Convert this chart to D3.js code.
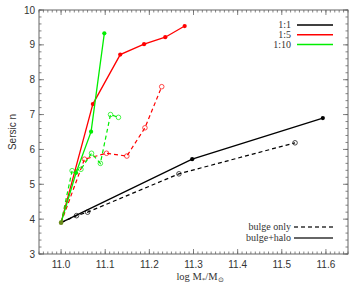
<!DOCTYPE html>
<html>
<head>
<meta charset="utf-8">
<script src="https://cdn.jsdelivr.net/npm/d3@7"></script>
<style>
  body { margin: 0; background: #fff; }
  svg { display: block; }
</style>
</head>
<body>
<svg id="chart" width="360" height="288"></svg>
<script>
// values: [log M*, Sersic n]
var ratios = ["1:1", "1:5", "1:10"];
var colors = ["#000000", "#ff0000", "#00ee00"];

var halo11  = [[11.0, 3.9], [11.297, 5.72], [11.593, 6.9]];
var bulge11 = [[11.0, 3.9], [11.035, 4.1], [11.06, 4.2], [11.267, 5.3], [11.53, 6.19]];
var halo15  = [[11.0, 3.9], [11.072, 7.3], [11.134, 8.72], [11.188, 9.02], [11.236, 9.22], [11.28, 9.54]];
var bulge15 = [[11.0, 3.9], [11.053, 5.72], [11.103, 5.89], [11.149, 5.81], [11.19, 6.62], [11.228, 7.8]];
var halo110 = [[11.0, 3.9], [11.034, 5.33], [11.068, 6.51], [11.098, 9.33]];
var bulge110 = [[11.0, 3.9], [11.025, 5.39], [11.045, 5.43], [11.069, 5.89], [11.089, 5.6], [11.112, 7.0], [11.13, 6.92]];

var xTicks = [11.0, 11.1, 11.2, 11.3, 11.4, 11.5, 11.6];
var yTicks = [3, 4, 5, 6, 7, 8, 9, 10];

var svg = d3.select("#chart");
var plotLeft = 39, plotRight = 348, plotTop = 10, plotBottom = 254;

var x = d3.scaleLinear().domain([10.95, 11.65]).range([plotLeft, plotRight]);
var y = d3.scaleLinear().domain([3, 10]).range([plotBottom, plotTop]);

// frame with inward ticks on all sides (IDL style)
var axisColor = "#666";
svg.append("rect").attr("x", plotLeft).attr("y", plotTop)
  .attr("width", plotRight - plotLeft).attr("height", plotBottom - plotTop)
  .attr("fill", "none").attr("stroke", axisColor).attr("stroke-width", 1);

var xMinor = d3.range(10.95, 11.655, 0.01);
var yMinor = d3.range(3, 10.001, 0.2);

function tickLinesX(vals, len) {
  vals.forEach(function(v) {
    var px = x(v);
    svg.append("line").attr("x1", px).attr("x2", px).attr("y1", plotBottom).attr("y2", plotBottom - len)
      .attr("stroke", axisColor).attr("stroke-width", 0.8);
    svg.append("line").attr("x1", px).attr("x2", px).attr("y1", plotTop).attr("y2", plotTop + len)
      .attr("stroke", axisColor).attr("stroke-width", 0.8);
  });
}
function tickLinesY(vals, len) {
  vals.forEach(function(v) {
    var py = y(v);
    svg.append("line").attr("y1", py).attr("y2", py).attr("x1", plotLeft).attr("x2", plotLeft + len)
      .attr("stroke", axisColor).attr("stroke-width", 0.8);
    svg.append("line").attr("y1", py).attr("y2", py).attr("x1", plotRight).attr("x2", plotRight - len)
      .attr("stroke", axisColor).attr("stroke-width", 0.8);
  });
}
tickLinesX(xMinor, 2.5);
tickLinesX(xTicks, 5);
tickLinesY(yMinor, 2.5);
tickLinesY(yTicks, 5);

svg.selectAll(".xlab").data(xTicks).enter().append("text")
  .attr("x", function(d) { return x(d); })
  .attr("y", 268)
  .attr("text-anchor", "middle")
  .attr("font-family", "Liberation Sans, Arial, sans-serif")
  .attr("font-size", 10).attr("fill", "#333")
  .text(function(d) { return d.toFixed(1); });

svg.selectAll(".ylab").data(yTicks).enter().append("text")
  .attr("x", 35)
  .attr("y", function(d) { return y(d) + 3.5; })
  .attr("text-anchor", "end")
  .attr("font-family", "Liberation Sans, Arial, sans-serif")
  .attr("font-size", 10).attr("fill", "#333")
  .text(function(d) { return d; });

svg.append("text")
  .attr("transform", "translate(16,132) rotate(-90)")
  .attr("text-anchor", "middle")
  .attr("font-family", "Liberation Sans, Arial, sans-serif")
  .attr("font-size", 10).attr("fill", "#333")
  .text("Sersic n");

var xl = svg.append("text").attr("x", 200).attr("y", 280)
  .attr("text-anchor", "middle")
  .attr("font-family", "Liberation Serif, Times New Roman, serif")
  .attr("font-size", 10.5).attr("fill", "#333");
xl.append("tspan").text("log M");
xl.append("tspan").attr("font-size", 7).attr("dy", 2).text("*");
xl.append("tspan").attr("dy", -2).text("/M");
xl.append("tspan").attr("font-size", 7).attr("dy", 2).text("\u2299");

// series
var line = d3.line().x(function(d) { return x(d[0]); }).y(function(d) { return y(d[1]); });
var haloSets = [halo11, halo15, halo110];
var bulgeSets = [bulge11, bulge15, bulge110];

bulgeSets.forEach(function(data, i) {
  svg.append("path").datum(data).attr("d", line)
    .attr("fill", "none").attr("stroke", colors[i]).attr("stroke-width", 1.2)
    .attr("stroke-dasharray", "4,3");
  svg.selectAll(".bo" + i).data(data.slice(1)).enter().append("circle")
    .attr("cx", function(d) { return x(d[0]); })
    .attr("cy", function(d) { return y(d[1]); })
    .attr("r", 2.3).attr("fill", "none")
    .attr("stroke", colors[i]).attr("stroke-width", 0.7);
});

haloSets.forEach(function(data, i) {
  svg.append("path").datum(data).attr("d", line)
    .attr("fill", "none").attr("stroke", colors[i]).attr("stroke-width", 1.3);
  svg.selectAll(".hf" + i).data(data.slice(1)).enter().append("circle")
    .attr("cx", function(d) { return x(d[0]); })
    .attr("cy", function(d) { return y(d[1]); })
    .attr("r", 2.1).attr("fill", colors[i]);
});

// shared starting point
svg.append("circle").attr("cx", x(11.0)).attr("cy", y(3.9)).attr("r", 2.3)
  .attr("fill", "#6a8a1a");

// legend, ratios
var serif = "Liberation Serif, Times New Roman, serif";
ratios.forEach(function(r, i) {
  var ly = 25 + i * 9.7;
  svg.append("text").attr("x", 291).attr("y", ly + 3.3).attr("text-anchor", "end")
    .attr("font-family", serif).attr("font-size", 10).attr("fill", "#333").text(r);
  svg.append("line").attr("x1", 297).attr("x2", 333).attr("y1", ly).attr("y2", ly)
    .attr("stroke", colors[i]).attr("stroke-width", 1.5);
});

// legend, line styles
var styles = [["bulge only", "4,3"], ["bulge+halo", null]];
styles.forEach(function(s, i) {
  var ly = 227 + i * 11;
  svg.append("text").attr("x", 291).attr("y", ly + 3).attr("text-anchor", "end")
    .attr("font-family", serif).attr("font-size", 10).attr("fill", "#333").text(s[0]);
  svg.append("line").attr("x1", 294).attr("x2", 333).attr("y1", ly).attr("y2", ly)
    .attr("stroke", "#333").attr("stroke-width", 1.3)
    .attr("stroke-dasharray", s[1]);
});
</script>
</body>
</html>
